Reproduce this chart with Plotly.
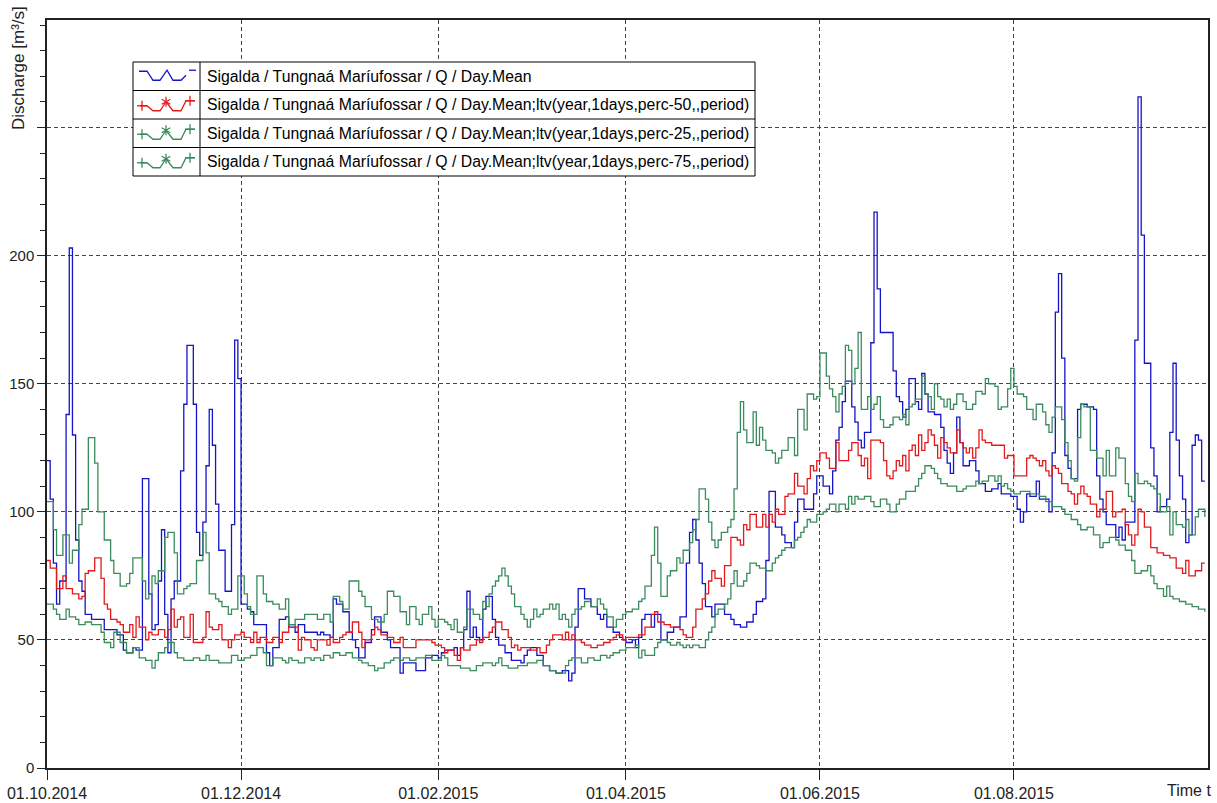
import pandas as pd
import plotly.graph_objects as go

# daily values 01.10.2014 - 30.09.2015 (m3/s)
day_mean = [
    120, 105, 80, 64, 73, 73, 138, 203, 130, 89,
    73, 69, 60, 60, 58, 58, 58, 58, 54, 54,
    54, 54, 52, 52, 46, 45, 45, 47, 46, 46,
    113, 113, 68, 54, 56, 73, 93, 60, 45, 66,
    73, 73, 116, 142, 165, 165, 142, 92, 83, 96,
    118, 140, 126, 103, 85, 85, 69, 69, 95, 167,
    152, 64, 64, 62, 61, 56, 56, 56, 56, 45,
    40, 47, 47, 58, 58, 59, 55, 55, 53, 56,
    56, 53, 53, 53, 53, 52, 53, 52, 52, 51,
    66, 64, 64, 61, 61, 53, 50, 47, 43, 43,
    49, 49, 54, 59, 59, 53, 53, 50, 47, 47,
    47, 37, 41, 41, 41, 41, 38, 38, 38, 43,
    43, 44, 44, 43, 45, 46, 46, 46, 47, 44,
    47, 54, 69, 51, 55, 51, 50, 62, 67, 67,
    58, 51, 48, 48, 45, 45, 42, 42, 42, 41,
    44, 46, 47, 47, 44, 44, 40, 40, 38, 38,
    37, 37, 38, 38, 34, 37, 55, 70, 70, 66,
    66, 63, 63, 60, 58, 60, 55, 55, 53, 53,
    51, 50, 49, 49, 50, 47, 51, 58, 60, 60,
    55, 60, 60, 50, 50, 53, 53, 55, 55, 59,
    59, 80, 92, 97, 89, 80, 72, 63, 63, 59,
    64, 64, 64, 60, 60, 58, 56, 56, 55, 55,
    57, 57, 60, 65, 65, 66, 81, 108, 108, 94,
    94, 91, 88, 88, 86, 96, 105, 105, 101, 101,
    101, 107, 114, 114, 110, 110, 107, 116, 128, 133,
    143, 151, 151, 141, 135, 128, 125, 131, 131, 166,
    217, 187, 170, 170, 170, 170, 155, 145, 143, 137,
    140, 152, 152, 143, 140, 154, 146, 139, 139, 138,
    138, 133, 124, 119, 115, 123, 137, 127, 118, 118,
    120, 120, 116, 111, 111, 108, 108, 109, 109, 111,
    107, 107, 107, 106, 106, 101, 96, 100, 107, 106,
    106, 112, 105, 105, 105, 100, 123, 178, 193, 160,
    122, 117, 113, 113, 140, 142, 142, 141, 141, 140,
    114, 105, 100, 95, 95, 95, 90, 94, 89, 96,
    96, 96, 167, 262, 208, 158, 158, 125, 114, 100,
    102, 102, 105, 131, 158, 128, 114, 105, 88, 91,
    126, 130, 128, 112, 112,
]

perc50 = [
    81, 78, 78, 70, 70, 75, 70, 70, 68, 68,
    66, 67, 76, 77, 77, 82, 82, 74, 64, 62,
    58, 58, 57, 56, 53, 53, 56, 51, 59, 55,
    55, 50, 53, 52, 52, 54, 54, 51, 54, 62,
    55, 58, 59, 51, 51, 60, 49, 49, 49, 51,
    61, 55, 54, 54, 56, 50, 50, 47, 50, 52,
    52, 53, 51, 51, 49, 53, 49, 51, 51, 49,
    49, 51, 51, 49, 53, 53, 56, 56, 55, 46,
    51, 50, 50, 47, 46, 50, 50, 50, 48, 51,
    49, 49, 51, 52, 53, 53, 57, 57, 53, 47,
    50, 50, 52, 55, 54, 52, 52, 51, 51, 49,
    49, 51, 47, 47, 47, 47, 50, 50, 50, 50,
    50, 49, 48, 48, 47, 45, 46, 46, 44, 42,
    47, 46, 46, 48, 48, 50, 49, 51, 51, 53,
    55, 57, 57, 54, 54, 51, 47, 48, 46, 47,
    47, 47, 46, 46, 47, 45, 45, 48, 50, 52,
    52, 52, 50, 53, 50, 52, 50, 50, 49, 48,
    48, 47, 47, 48, 48, 49, 49, 50, 51, 52,
    52, 50, 51, 51, 51, 51, 52, 52, 55, 55,
    60, 61, 57, 57, 56, 56, 55, 55, 55, 54,
    52, 51, 51, 55, 62, 62, 66, 68, 73, 77,
    74, 74, 71, 79, 79, 90, 90, 89, 87, 95,
    93, 99, 99, 94, 94, 99, 94, 99, 96, 101,
    99, 99, 106, 107, 107, 115, 110, 110, 107, 113,
    118, 116, 120, 123, 123, 121, 117, 117, 127, 120,
    120, 120, 124, 127, 127, 122, 118, 121, 113, 128,
    128, 128, 127, 120, 114, 113, 116, 120, 118, 122,
    116, 124, 126, 122, 130, 124, 127, 132, 130, 126,
    121, 129, 127, 125, 123, 123, 132, 127, 125, 123,
    125, 121, 125, 132, 128, 127, 127, 126, 126, 126,
    126, 121, 122, 122, 114, 114, 114, 114, 121, 122,
    121, 120, 118, 120, 116, 114, 118, 117, 115, 111,
    111, 108, 107, 103, 107, 110, 107, 106, 103, 103,
    98, 101, 101, 108, 108, 98, 100, 100, 101, 95,
    91, 87, 91, 101, 100, 94, 94, 86, 86, 84,
    84, 83, 83, 82, 82, 78, 78, 76, 81, 75,
    75, 77, 77, 80, 80,
]

perc25 = [
    64, 64, 62, 60, 58, 58, 62, 59, 59, 58,
    56, 56, 57, 57, 56, 56, 56, 53, 49, 49,
    47, 53, 53, 49, 49, 45, 45, 47, 47, 43,
    43, 42, 42, 39, 42, 45, 45, 47, 49, 49,
    45, 43, 43, 42, 42, 42, 43, 43, 42, 42,
    44, 42, 42, 42, 41, 41, 41, 41, 44, 44,
    42, 42, 43, 43, 44, 44, 47, 47, 45, 40,
    40, 43, 43, 43, 42, 41, 43, 42, 42, 41,
    41, 43, 43, 42, 43, 43, 42, 44, 44, 43,
    45, 45, 44, 44, 45, 45, 43, 43, 42, 41,
    41, 40, 40, 38, 39, 39, 41, 41, 42, 43,
    43, 42, 43, 43, 42, 42, 43, 43, 43, 44,
    44, 42, 42, 42, 44, 43, 40, 40, 40, 40,
    39, 39, 39, 38, 38, 40, 40, 41, 41, 41,
    40, 41, 43, 40, 40, 39, 39, 39, 40, 40,
    40, 41, 41, 41, 42, 42, 40, 40, 38, 38,
    37, 37, 37, 40, 42, 43, 43, 43, 41, 41,
    43, 43, 42, 42, 44, 44, 43, 44, 45, 45,
    46, 46, 47, 47, 47, 48, 43, 46, 44, 44,
    44, 47, 49, 50, 50, 49, 48, 48, 49, 48,
    47, 48, 47, 48, 48, 47, 47, 50, 53, 55,
    60, 62, 62, 64, 66, 72, 77, 71, 71, 73,
    76, 80, 80, 79, 78, 78, 77, 77, 80, 82,
    83, 85, 86, 86, 86, 89, 90, 92, 94, 97,
    96, 96, 99, 99, 100, 101, 103, 103, 100, 103,
    103, 101, 106, 103, 106, 105, 105, 106, 106, 104,
    102, 102, 105, 105, 103, 100, 100, 103, 105, 105,
    108, 108, 108, 110, 113, 115, 118, 118, 117, 115,
    113, 111, 111, 110, 110, 110, 108, 108, 109, 110,
    110, 110, 112, 111, 112, 112, 114, 114, 112, 114,
    110, 111, 109, 108, 107, 107, 108, 108, 108, 107,
    107, 107, 106, 106, 104, 104, 102, 102, 102, 101,
    99, 99, 97, 97, 95, 93, 93, 94, 94, 91,
    91, 86, 88, 88, 90, 90, 89, 87, 87, 85,
    85, 81, 76, 76, 77, 77, 79, 75, 72, 70,
    70, 67, 71, 67, 66, 66, 65, 65, 64, 64,
    63, 63, 62, 62, 61,
]

perc75 = [
    104, 104, 93, 83, 83, 91, 91, 80, 85, 85,
    95, 101, 101, 129, 129, 119, 100, 100, 89, 89,
    81, 76, 76, 71, 71, 72, 76, 82, 82, 82,
    73, 66, 68, 75, 72, 77, 77, 90, 92, 92,
    84, 68, 68, 70, 71, 72, 72, 81, 81, 92,
    84, 68, 68, 66, 65, 63, 63, 60, 62, 62,
    75, 75, 68, 63, 60, 60, 75, 75, 68, 65,
    65, 64, 64, 62, 62, 66, 56, 56, 58, 58,
    58, 60, 60, 60, 60, 58, 58, 60, 60, 57,
    67, 67, 65, 62, 62, 73, 73, 73, 69, 67,
    63, 63, 58, 58, 57, 57, 60, 69, 69, 67,
    67, 61, 61, 56, 63, 63, 58, 56, 60, 60,
    63, 58, 55, 58, 58, 57, 56, 54, 58, 53,
    53, 55, 62, 62, 60, 60, 58, 65, 63, 68,
    71, 73, 75, 78, 75, 71, 68, 63, 63, 60,
    58, 55, 58, 62, 59, 60, 62, 62, 64, 62,
    64, 58, 60, 58, 55, 60, 62, 62, 63, 65,
    65, 63, 63, 66, 64, 62, 59, 59, 55, 58,
    58, 60, 61, 61, 62, 62, 65, 66, 71, 71,
    83, 94, 80, 67, 67, 75, 77, 77, 82, 80,
    85, 85, 88, 93, 97, 109, 109, 105, 96, 89,
    86, 89, 92, 92, 94, 97, 109, 131, 143, 132,
    127, 127, 139, 126, 133, 128, 124, 124, 123, 119,
    121, 124, 124, 129, 129, 122, 140, 140, 132, 146,
    146, 144, 145, 162, 162, 153, 148, 145, 139, 146,
    149, 165, 163, 150, 156, 170, 140, 140, 145, 140,
    142, 145, 136, 133, 133, 134, 137, 137, 136, 138,
    134, 141, 142, 144, 144, 153, 146, 145, 140, 150,
    145, 144, 141, 144, 140, 142, 146, 146, 143, 140,
    140, 142, 147, 147, 146, 152, 150, 150, 149, 140,
    141, 141, 148, 156, 149, 146, 146, 145, 140, 140,
    136, 142, 142, 139, 134, 131, 137, 141, 141, 136,
    127, 120, 113, 112, 129, 142, 141, 141, 124, 124,
    121, 121, 114, 124, 114, 114, 125, 121, 121, 111,
    106, 104, 115, 111, 111, 112, 111, 110, 109, 107,
    100, 100, 102, 91, 100, 95, 95, 94, 97, 91,
    91, 98, 101, 101, 98,
]

dates = pd.date_range("2014-10-01", periods=len(day_mean), freq="D")

tick_dates = ["2014-10-01", "2014-12-01", "2015-02-01", "2015-04-01", "2015-06-01", "2015-08-01"]
tick_labels = ["01.10.2014", "01.12.2014", "01.02.2015", "01.04.2015", "01.06.2015", "01.08.2015"]
y_ticks = [0, 50, 100, 150, 200, 250]
y_labels = ["0", "50", "100", "150", "200", ""]

names = [
    "Sigalda / Tungnaá Maríufossar / Q / Day.Mean",
    "Sigalda / Tungnaá Maríufossar / Q / Day.Mean;ltv(year,1days,perc-50,,period)",
    "Sigalda / Tungnaá Maríufossar / Q / Day.Mean;ltv(year,1days,perc-25,,period)",
    "Sigalda / Tungnaá Maríufossar / Q / Day.Mean;ltv(year,1days,perc-75,,period)",
]
BLUE, RED, GREEN = "#1414c8", "#e31a1c", "#3a8c5c"
colors = [BLUE, RED, GREEN, GREEN]
series = [day_mean, perc50, perc25, perc75]

FONT = "Liberation Sans, Arial, sans-serif"
W, H = 1217, 803
L, R, T, B = 47, 9, 20, 35
PW, PH = W - L - R, H - T - B


def px_x(p):
    return (p - L) / PW


def px_y(p):
    return (H - B - p) / PH


def px_path(pts):
    return "M " + " L ".join(f"{px_x(a):.5f},{px_y(b):.5f}" for a, b in pts)


fig = go.Figure()
for vals, col, nm in zip(series, colors, names):
    fig.add_trace(go.Scatter(x=dates, y=vals, mode="lines", line=dict(color=col, width=1.3, shape="hv"),
                             name=nm, showlegend=False))

# hand-made legend box (table style as in the original)
lx0, lx1, ly0, ly1, ldiv = 133, 755, 62, 176, 200
rowh = (ly1 - ly0) / 4
box = dict(color="black", width=1)
shapes = [dict(type="rect", xref="paper", yref="paper", x0=px_x(lx0), x1=px_x(lx1), y0=px_y(ly1), y1=px_y(ly0),
               line=box, fillcolor="white", layer="above")]
for i in range(1, 4):
    yy = px_y(ly0 + i * rowh)
    shapes.append(dict(type="line", xref="paper", yref="paper", x0=px_x(lx0), x1=px_x(lx1), y0=yy, y1=yy,
                       line=box, layer="above"))
shapes.append(dict(type="line", xref="paper", yref="paper", x0=px_x(ldiv), x1=px_x(ldiv), y0=px_y(ly1),
                   y1=px_y(ly0), line=box, layer="above"))

# legend glyphs: zigzag line, red/green ones with + and * markers
for i, col in enumerate(colors):
    cy = ly0 + (i + 0.5) * rowh
    gl = dict(color=col, width=1.3)
    if i == 0:
        zz = [(6, -5), (14, -5), (20, 4), (27, 4), (34, -6), (40, 4), (48, 4), (53, -1)]
        shapes.append(dict(type="path", xref="paper", yref="paper", layer="above", line=gl,
                           path=px_path([(lx0 + a, cy + b) for a, b in zz])))
        shapes.append(dict(type="path", xref="paper", yref="paper", layer="above", line=gl,
                           path=px_path([(lx0 + 56, cy - 6), (lx0 + 63, cy - 6)])))
    else:
        zz = [(7, 1), (14, 1), (20, 6), (27, 6), (33, -3), (40, 6), (48, 6), (53, -4), (62, -4)]
        shapes.append(dict(type="path", xref="paper", yref="paper", layer="above", line=gl,
                           path=px_path([(lx0 + a, cy + b) for a, b in zz])))
        for mx, my in [(9, 1), (57, -4)]:
            shapes.append(dict(type="path", xref="paper", yref="paper", layer="above", line=gl,
                               path=px_path([(lx0 + mx - 5, cy + my), (lx0 + mx + 5, cy + my)])))
            shapes.append(dict(type="path", xref="paper", yref="paper", layer="above", line=gl,
                               path=px_path([(lx0 + mx, cy + my - 5), (lx0 + mx, cy + my + 5)])))
        sx, sy = lx0 + 33, cy - 3
        for dx, dy in [(0, 5), (4.3, 2.5), (4.3, -2.5)]:
            shapes.append(dict(type="path", xref="paper", yref="paper", layer="above", line=gl,
                               path=px_path([(sx - dx, sy - dy), (sx + dx, sy + dy)])))

annotations = []
for i, nm in enumerate(names):
    annotations.append(dict(text=nm, xref="paper", yref="paper", x=px_x(205), y=px_y(ly0 + (i + 0.5) * rowh),
                            xanchor="left", yanchor="middle", showarrow=False,
                            font=dict(family=FONT, size=15.8, color="black")))

annotations.append(dict(text="Discharge [m³/s]", xref="paper", yref="paper", x=px_x(19), y=px_y(4),
                        xanchor="center", yanchor="top", textangle=-90, showarrow=False,
                        font=dict(family=FONT, size=17, color="#222")))
annotations.append(dict(text="Time t", xref="paper", yref="paper", x=px_x(1213), y=px_y(780),
                        xanchor="right", yanchor="top", showarrow=False,
                        font=dict(family=FONT, size=16, color="#222")))

grid_dash = "4px,3px"
fig.update_layout(
    width=W, height=H,
    margin=dict(l=L, r=R, t=T, b=B, autoexpand=False),
    paper_bgcolor="white", plot_bgcolor="white",
    font=dict(family=FONT, size=15, color="#222"),
    shapes=shapes, annotations=annotations,
    xaxis=dict(type="date", range=["2014-10-01", "2015-10-01"], tickvals=tick_dates, ticktext=tick_labels,
               showgrid=True, gridcolor="#444", griddash=grid_dash, gridwidth=1,
               showline=True, linecolor="#222", linewidth=1.5, mirror=True, automargin=False,
               ticks="outside", ticklen=10, tickcolor="#222", tickfont=dict(size=16), zeroline=False),
    yaxis=dict(range=[0, 292], tickvals=y_ticks, ticktext=y_labels,
               showgrid=True, gridcolor="#444", griddash=grid_dash, gridwidth=1,
               showline=True, linecolor="#222", linewidth=1.5, mirror=True, automargin=False,
               ticks="outside", ticklen=8, tickcolor="#222", tickfont=dict(size=15), zeroline=False,
               minor=dict(dtick=10, tick0=0, ticks="outside", ticklen=5, tickcolor="#222", showgrid=False)),
    showlegend=False,
)

fig.write_html("out.html", config={"displayModeBar": False},
               post_script="document.body.style.margin='0';")
